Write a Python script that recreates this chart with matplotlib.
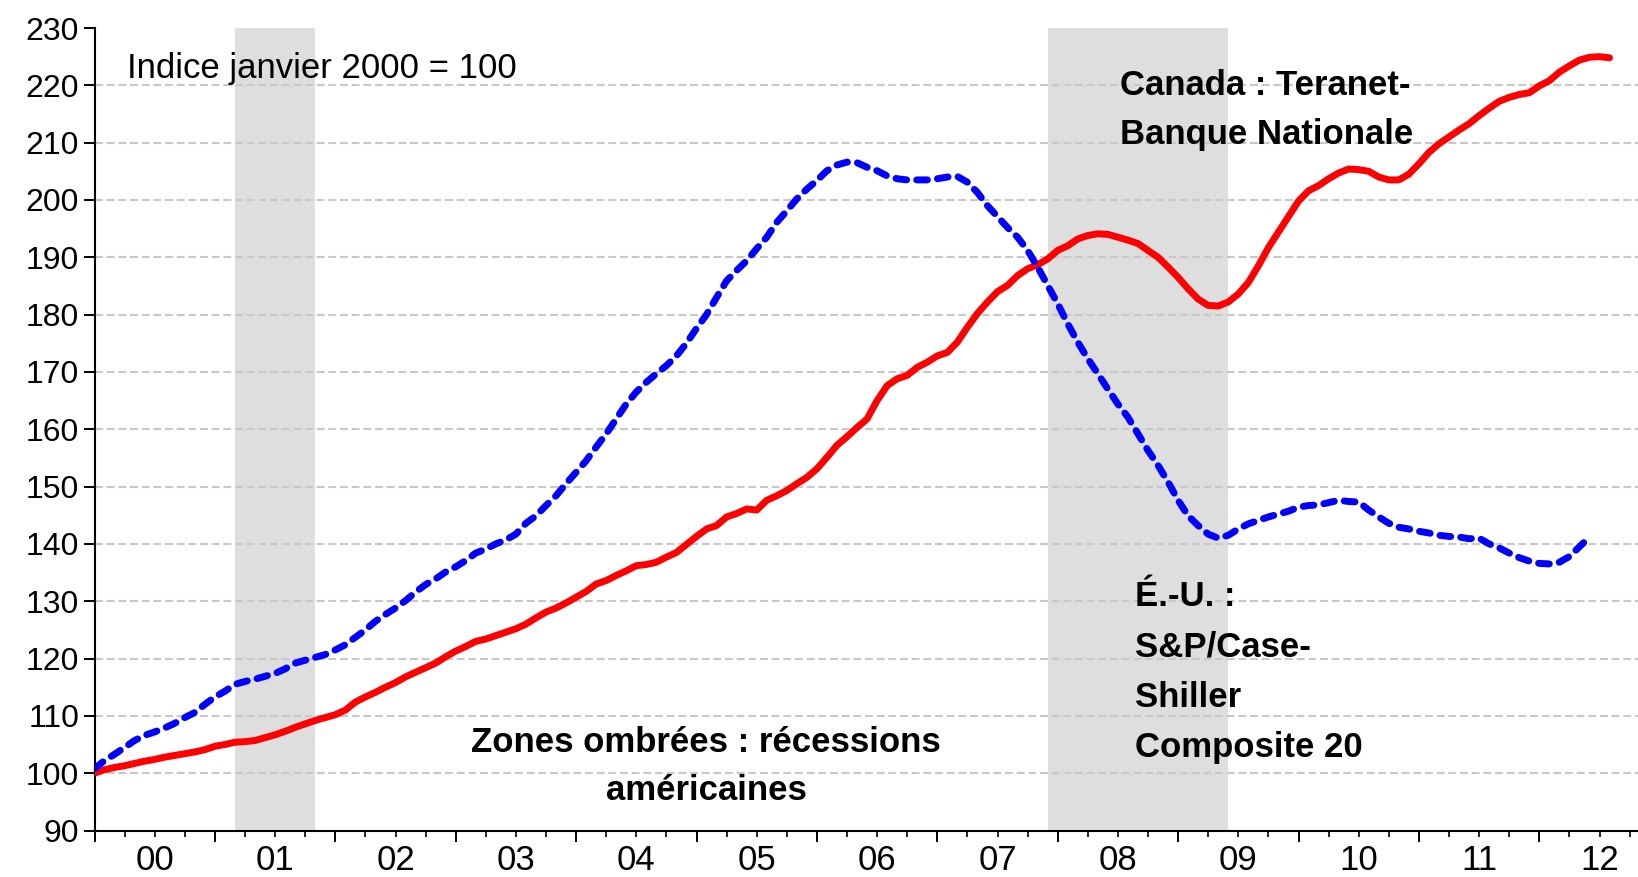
import numpy as np
import matplotlib
matplotlib.use("Agg")
import matplotlib.pyplot as plt

# Données mensuelles, janvier 2000 = 100
canada = [100.0, 100.6, 101.0, 101.3, 101.7, 102.1, 102.4, 102.8, 103.1, 103.4, 103.7, 104.1,
          104.7, 105.0, 105.4, 105.5, 105.7, 106.2, 106.7, 107.3, 108.0, 108.6, 109.2, 109.7,
          110.2, 111.0, 112.4, 113.3, 114.1, 115.0, 115.8, 116.8, 117.6, 118.4, 119.2, 120.3,
          121.3, 122.1, 123.0, 123.4, 124.0, 124.6, 125.2, 126.0, 127.1, 128.1, 128.8, 129.7,
          130.7, 131.7, 133.0, 133.6, 134.5, 135.3, 136.2, 136.4, 136.8, 137.7, 138.5, 139.9,
          141.3, 142.6, 143.2, 144.7, 145.3, 146.1, 145.9, 147.6, 148.4, 149.3, 150.5, 151.6,
          153.1, 155.1, 157.2, 158.7, 160.3, 161.8, 165.0, 167.6, 168.8, 169.4, 170.8, 171.7,
          172.8, 173.4, 175.2, 177.8, 180.2, 182.2, 184.0, 185.1, 186.8, 188.0, 188.7, 189.7,
          191.2, 192.0, 193.2, 193.8, 194.1, 194.0, 193.5, 193.0, 192.4, 191.2, 190.0, 188.3,
          186.5, 184.5, 182.7, 181.6, 181.5, 182.2, 183.6, 185.6, 188.5, 191.7, 194.4, 197.1,
          199.8, 201.6, 202.5, 203.7, 204.7, 205.4, 205.3, 205.0, 204.0, 203.5, 203.5, 204.5,
          206.3, 208.3, 209.8, 211.0, 212.2, 213.3, 214.7, 216.0, 217.2, 217.9, 218.4, 218.7,
          219.9, 220.8, 222.3, 223.4, 224.4, 224.9, 225.0, 224.8]

usa = [100.8, 102.2, 103.3, 104.5, 105.7, 106.6, 107.2, 107.9, 108.7, 109.7, 110.6, 112.0,
       113.3, 114.3, 115.5, 116.0, 116.4, 116.9, 117.4, 118.2, 119.2, 119.7, 120.2, 120.7,
       121.5, 122.4, 123.7, 125.0, 126.5, 127.7, 128.8, 130.1, 131.6, 132.9, 133.9, 135.1,
       136.0, 137.1, 138.4, 139.1, 140.0, 140.7, 141.7, 143.6, 144.9, 146.7, 148.4, 150.5,
       152.5, 154.5, 156.9, 159.2, 161.8, 164.4, 166.5, 168.2, 169.7, 171.1, 172.8, 175.0,
       177.6, 180.0, 183.0, 185.9, 187.7, 189.4, 191.5, 193.5, 196.1, 198.1, 200.2, 201.9,
       203.4, 205.1, 206.1, 206.6, 206.5, 205.7, 205.1, 204.2, 203.7, 203.5, 203.5, 203.5,
       203.7, 204.0, 204.1, 203.1, 201.3, 199.0, 197.1, 195.2, 193.5, 191.2, 188.3, 185.1,
       181.9, 178.4, 175.2, 172.3, 169.7, 167.0, 164.4, 162.1, 159.2, 156.3, 153.7, 150.8,
       147.6, 144.9, 143.2, 141.7, 141.0, 141.5, 142.6, 143.5, 144.1, 144.7, 145.2, 145.7,
       146.4, 146.7, 146.8, 147.2, 147.6, 147.4, 147.3, 145.9, 144.7, 143.6, 142.9, 142.6,
       142.2, 141.9, 141.5, 141.3, 141.2, 140.9, 141.0, 140.0, 139.3, 138.4, 137.6, 137.0,
       136.6, 136.5, 136.8, 137.8, 139.5, 141.2]

# récessions américaines (début, fin) en années décimales
recessions = [(2001 + 2/12, 2001 + 10/12), (2007 + 11/12, 2009 + 5/12)]

annees = list(range(2000, 2013))
etiquettes_x = ["00", "01", "02", "03", "04", "05", "06", "07", "08", "09", "10", "11", "12"]
yticks = list(range(90, 231, 10))

x_can = 2000 + np.arange(len(canada)) / 12
x_usa = 2000 + np.arange(len(usa)) / 12

W, H = 1638, 877
fig = plt.figure(figsize=(W / 100, H / 100), dpi=100)
ax = fig.add_axes([94.5 / W, 46.5 / H, (W - 94.5) / W, 802.5 / H])

plain = ["Liberation Sans", "DejaVu Sans"]

# zones ombrées
for a, b in recessions:
    ax.axvspan(a, b, color="#dedede", lw=0, zorder=0)

# grille
for v in yticks[1:-1]:
    ax.axhline(v, color="#c8c8c8", lw=1.5, ls=(0, (3.8, 1.8)), zorder=1)

ax.plot(x_can, canada, color="#ff0000", lw=5.0, solid_capstyle="round",
        solid_joinstyle="round", zorder=3)
ax.plot(x_usa, usa, color="#0000ff", lw=5.0, ls=(0, (1.55, 1.45)),
        dash_capstyle="round", zorder=3)

ax.set_xlim(2000, 2000 + (W - 94.5) / 120.4)
ax.set_ylim(90, 230)
ax.set_yticks(yticks)
ax.set_yticklabels([str(v) for v in yticks], family=plain, fontsize=23)
ax.set_xticks(annees)
ax.set_xticklabels([])
ax.set_xticks(np.arange(2000, 2012.9, 0.25), minor=True)
ax.tick_params(axis="y", direction="out", length=8, width=1.4, pad=3)
ax.tick_params(axis="x", which="major", direction="out", length=8, width=1.4)
ax.tick_params(axis="x", which="minor", direction="out", length=4.3, width=1.2)

for s in ["top", "right"]:
    ax.spines[s].set_visible(False)
for s in ["left", "bottom"]:
    ax.spines[s].set_linewidth(1.5)

tr = ax.get_xaxis_transform()
for yr, lab in zip(annees, etiquettes_x):
    ax.text(yr + 0.5, -39 / 802.5, lab, transform=tr, ha="center", va="baseline",
            family=plain, fontsize=25, clip_on=False)


def lignes(x, y0, textes, bold=True, ha="left", pas=49):
    # y0 : ligne de base de la 1re ligne, en pixels depuis le haut
    for k, t in enumerate(textes):
        yy = 90 + (830.5 - (y0 + k * pas)) / 5.732
        ax.text(x, yy, t, ha=ha, va="baseline", family=plain, fontsize=25,
                fontweight="bold" if bold else "normal", zorder=4)


lignes(2000.27, 78, ["Indice janvier 2000 = 100"], bold=False)
lignes(2008.52, 95, ["Canada : Teranet-", "Banque Nationale"])
lignes(2008.645, 606, ["É.-U. :", "S&P/Case-", "Shiller", "Composite 20"], pas=50.5)
lignes(2005.08, 752, ["Zones ombrées : récessions", "américaines"], ha="center", pas=48)

fig.savefig("out.png", dpi=100)
